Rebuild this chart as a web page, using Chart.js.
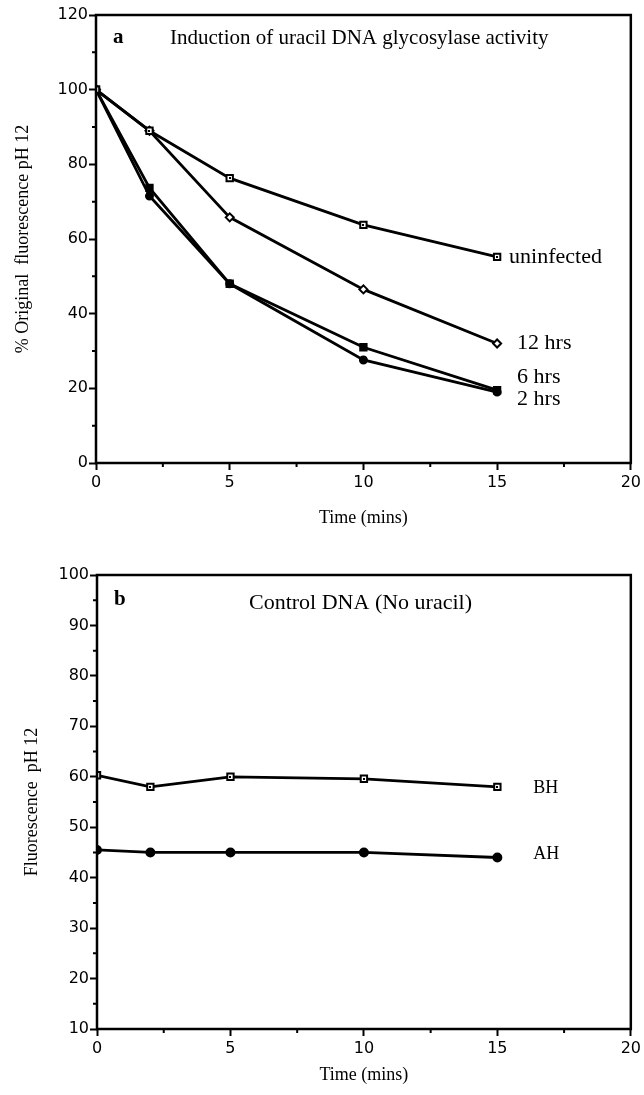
<!DOCTYPE html>
<html><head><meta charset="utf-8">
<script src="https://cdn.jsdelivr.net/npm/chart.js@4.4.0/dist/chart.umd.min.js"></script>
<style>
html,body{margin:0;padding:0;background:#fff;}
#wa{position:absolute;left:0;top:0;width:644px;height:545px;}
#wb{position:absolute;left:0;top:545px;width:644px;height:550px;}
</style></head><body>
<div id="wa"><canvas id="ca" width="644" height="545"></canvas></div>
<div id="wb"><canvas id="cb" width="644" height="550"></canvas></div>
<script>
// ---- data ----
const timeA = [0, 2, 5, 10, 15];
const uninfected = [100, 89, 76.3, 63.8, 55.2];
const hrs12 = [100, 89, 65.8, 46.5, 32];
const hrs6 = [100, 73.7, 48, 31, 19.5];
const hrs2 = [100, 71.5, 48, 27.6, 19];
const timeB = [0, 2, 5, 10, 15];
const bh = [60.3, 58, 60, 59.6, 58];
const ah = [45.5, 45, 45, 45, 44];
const xTicks = [0, 5, 10, 15, 20];
const xMinor = [2.5, 7.5, 12.5, 17.5];
const yTicksA = [0, 20, 40, 60, 80, 100, 120];
const yMinorA = [10, 30, 50, 70, 90, 110];
const yTicksB = [10, 20, 30, 40, 50, 60, 70, 80, 90, 100];
const yMinorB = [15, 25, 35, 45, 55, 65, 75, 85, 95];
const titleA = 'Induction of uracil DNA glycosylase activity';
const titleB = 'Control DNA (No uracil)';
const xTitle = 'Time (mins)';
const yTitleA = '% Original  fluorescence pH 12';
const yTitleB = 'Fluorescence  pH 12';

const pts = (xs, ys) => xs.map((x, i) => ({x: x, y: ys[i]}));
const SERIF = '"Liberation Serif", "Times New Roman", serif';
const SANS = '"DejaVu Sans", sans-serif';

const framePlugin = {
  id: 'frame',
  afterDraw(chart, args, opts) {
    const {ctx, chartArea: a, scales: {x, y}} = chart;
    ctx.save();
    ctx.strokeStyle = '#000';
    ctx.lineWidth = 2.5;
    ctx.strokeRect(a.left, a.top, a.right - a.left, a.bottom - a.top);
    ctx.lineWidth = 2;
    ctx.beginPath();
    (opts.xMinor || []).forEach(v => {
      const p = x.getPixelForValue(v);
      ctx.moveTo(p, a.bottom); ctx.lineTo(p, a.bottom + 4);
    });
    (opts.yMinor || []).forEach(v => {
      const p = y.getPixelForValue(v);
      ctx.moveTo(a.left - 4, p); ctx.lineTo(a.left, p);
    });
    ctx.stroke();
    ctx.restore();
  }
};

const dotPlugin = {
  id: 'dots',
  afterDatasetsDraw(chart) {
    const ctx = chart.ctx;
    ctx.save();
    ctx.fillStyle = '#000';
    chart.data.datasets.forEach((ds, i) => {
      if (!ds.centerDot) return;
      chart.getDatasetMeta(i).data.forEach(el => {
        ctx.fillRect(Math.round(el.x) - 1, Math.round(el.y) - 1, 2, 2);
      });
    });
    ctx.restore();
  }
};

const annotPlugin = {
  id: 'annot',
  afterDraw(chart, args, opts) {
    const {ctx, chartArea: a, scales: {x, y}} = chart;
    ctx.save();
    ctx.fillStyle = '#000';
    ctx.textBaseline = 'middle';
    (opts.items || []).forEach(it => {
      ctx.font = it.font;
      ctx.textAlign = it.align || 'left';
      let px, py;
      if (it.ds !== undefined) {
        const ds = chart.data.datasets[it.ds];
        const last = ds.data[ds.data.length - 1];
        px = x.getPixelForValue(last.x) + it.dx;
        py = y.getPixelForValue(last.y) + it.dy;
      } else {
        px = a.left + it.dx;
        py = a.top + it.dy;
      }
      ctx.fillText(it.text, px, py);
    });
    ctx.restore();
  }
};

function lineDs(label, data, style, fill, radius, dot) {
  return {
    label: label, data: data, showLine: true,
    borderColor: '#000', borderWidth: 2.8,
    pointStyle: style, pointRadius: radius, pointHoverRadius: radius,
    pointBackgroundColor: fill, pointBorderColor: '#000', pointBorderWidth: 2,
    centerDot: dot, tension: 0
  };
}

function makeOptions(cfg) {
  return {
    responsive: false, animation: false, events: [],
    layout: {padding: {left: 0, top: cfg.top, right: cfg.right, bottom: 0}},
    plugins: {
      legend: {display: false}, tooltip: {enabled: false},
      frame: {xMinor: xMinor, yMinor: cfg.yMinor},
      annot: {items: cfg.items}
    },
    scales: {
      x: {
        type: 'linear', min: 0, max: 20,
        afterBuildTicks: s => { s.ticks = xTicks.map(v => ({value: v})); },
        afterFit: s => { s.height = cfg.xHeight; },
        grid: {display: true, drawOnChartArea: false, drawTicks: true, tickLength: 7, tickWidth: 2, tickColor: '#000'},
        border: {display: false},
        ticks: {color: '#000', font: {family: SANS, size: 16}, padding: 3, maxRotation: 0, autoSkip: false},
        title: {display: true, text: xTitle, color: '#000', font: {family: SERIF, size: 18}, padding: {top: 0, bottom: cfg.xTitlePad}}
      },
      y: {
        type: 'linear', min: cfg.ymin, max: cfg.ymax,
        afterBuildTicks: s => { s.ticks = cfg.yTicks.map(v => ({value: v})); },
        afterFit: s => { s.width = cfg.yWidth; },
        grid: {display: true, drawOnChartArea: false, drawTicks: true, tickLength: 7, tickWidth: 2, tickColor: '#000'},
        border: {display: false},
        ticks: {color: '#000', font: {family: SANS, size: 16}, padding: 1, autoSkip: false},
        title: {display: true, text: cfg.yTitle, color: '#000', font: {family: SERIF, size: 18}, padding: {top: cfg.yTitlePad, bottom: 0}}
      }
    }
  };
}

new Chart(document.getElementById('ca'), {
  type: 'scatter',
  data: {
    datasets: [
      lineDs('uninfected', pts(timeA, uninfected), 'rect', '#fff', 4.5, true),
      lineDs('12 hrs', pts(timeA, hrs12), 'rectRot', '#fff', 4, false),
      lineDs('6 hrs', pts(timeA, hrs6), 'rect', '#000', 4.5, false),
      lineDs('2 hrs', pts(timeA, hrs2), 'circle', '#000', 3.5, false)
    ]
  },
  options: makeOptions({
    top: 15, right: 9, xHeight: 82, yWidth: 96, xTitlePad: 16, yTitlePad: 12,
    ymin: 0, ymax: 120, yTicks: yTicksA, yMinor: yMinorA, yTitle: yTitleA,
    items: [
      {text: 'a', font: 'bold 21px ' + SERIF, dx: 17, dy: 23},
      {text: titleA, font: '21px ' + SERIF, dx: 74, dy: 23},
      {text: 'uninfected', ds: 0, dx: 12, dy: 0, font: '22px ' + SERIF},
      {text: '12 hrs', ds: 1, dx: 20, dy: 0, font: '22px ' + SERIF},
      {text: '6 hrs', ds: 2, dx: 20, dy: -13, font: '22px ' + SERIF},
      {text: '2 hrs', ds: 3, dx: 20, dy: 7, font: '22px ' + SERIF}
    ]
  }),
  plugins: [framePlugin, dotPlugin, annotPlugin]
});

new Chart(document.getElementById('cb'), {
  type: 'scatter',
  data: {
    datasets: [
      lineDs('BH', pts(timeB, bh), 'rect', '#fff', 4.5, true),
      lineDs('AH', pts(timeB, ah), 'circle', '#000', 4, false)
    ]
  },
  options: makeOptions({
    top: 30, right: 11, xHeight: 66, yWidth: 97, xTitlePad: 9, yTitlePad: 21,
    ymin: 10, ymax: 100, yTicks: yTicksB, yMinor: yMinorB, yTitle: yTitleB,
    items: [
      {text: 'b', font: 'bold 21px ' + SERIF, dx: 17, dy: 25},
      {text: titleB, font: '22px ' + SERIF, dx: 152, dy: 28},
      {text: 'BH', ds: 0, dx: 36, dy: 1, font: '18px ' + SERIF},
      {text: 'AH', ds: 1, dx: 36, dy: -3, font: '18px ' + SERIF}
    ]
  }),
  plugins: [framePlugin, dotPlugin, annotPlugin]
});
</script>
</body></html>
